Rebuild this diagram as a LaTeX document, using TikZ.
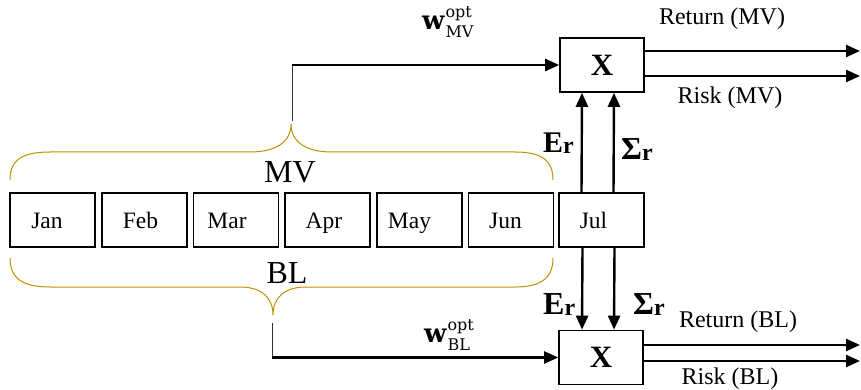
\documentclass[tikz,border=0pt]{standalone}
\usepackage{fontspec}
\setmainfont{Liberation Serif}
\newfontfamily\wserif{DejaVu Serif}
\usetikzlibrary{arrows.meta,calc}
\definecolor{bracegold}{RGB}{191,144,0}
% bold w with stacked "opt" superscript and a subscript tag
\newcommand\woptlabel[1]{{\wserif\fontsize{26}{26}\selectfont\bfseries w}\kern1pt%
  \rlap{\raisebox{12pt}{\wserif\fontsize{16}{16}\selectfont opt}}%
  \raisebox{-8pt}{\wserif\fontsize{16}{16}\selectfont #1}}
% bold symbol with a lowered bold r
\newcommand\symr[2]{{\fontsize{#2}{#2}\selectfont\bfseries #1}%
  \raisebox{-1pt}{\fontsize{24}{24}\selectfont\bfseries r}}

\begin{document}
\begin{tikzpicture}[x=1pt,y=-1pt,
  month/.style={draw,line width=1.4pt,minimum width=85pt,minimum height=54pt,inner sep=0pt,
    text height=16pt,text depth=0pt,font=\fontsize{23.5}{24}\selectfont},
  xbox/.style={draw,line width=1.6pt,minimum width=84pt,minimum height=54pt,inner sep=0pt,
    font=\fontsize{31}{31}\selectfont\bfseries},
  arr/.style={line width=2.4pt,-{Triangle[length=14pt,width=12pt]}},
  feed/.style={line width=1pt,draw=black!80},
  brace/.style={draw=bracegold,line width=1pt},
  lab/.style={inner sep=0pt,anchor=base,font=\fontsize{24}{26}\selectfont},
  big/.style={inner sep=0pt,font=\fontsize{32}{34}\selectfont},
  sym/.style={inner sep=0pt,anchor=base west},
  wlab/.style={inner sep=0pt,anchor=base west},
]
\useasboundingbox (0,0) rectangle (861,390);

% monthly windows
\node[month] (jan) at (52.5,220) {Jan\hspace*{11pt}};
\node[month] (feb) at (144.5,220) {Feb\hspace*{8pt}};
\node[month] (mar) at (236,220) {Mar\hspace*{18pt}};
\node[month] (apr) at (327.5,220) {Apr\hspace*{7pt}};
\node[month] (may) at (419.5,220) {May\hspace*{20pt}};
\node[month] (jun) at (511,220) {Jun\hspace*{11pt}};
\node[month] (jul) at (601.5,220) {Jul\hspace*{16pt}};

% portfolio evaluation boxes
\node[xbox] (xmv) at (602,65) {X};
\node[xbox] (xbl) at (601,357.5) {X};

% braces over the estimation window
\draw[brace] (10,180) .. controls (10,160) and (22,152) .. (50,152) -- (250,152)
  .. controls (276,152) and (291,142) .. (291,124)
  .. controls (291,142) and (306,152) .. (332,152) -- (515,152)
  .. controls (541,152) and (553,160) .. (553,180);
\draw[brace] (10,258) .. controls (10,278) and (22,287) .. (50,287) -- (240,287)
  .. controls (262,287) and (273,298) .. (273,315)
  .. controls (273,298) and (284,287) .. (306,287) -- (515,287)
  .. controls (541,287) and (553,278) .. (553,258);
\coordinate (mvtip) at (292,121);
\coordinate (bltip) at (272,323);

\node[big] (mvlab) at (290,172) {MV};
\node[big] (bllab) at (287,273) {BL};

% optimal weights feeding the evaluation boxes
\coordinate (mvcorner) at (mvtip |- xmv.west);
\draw[feed] (mvtip) -- (mvcorner);
\draw[arr] (mvcorner) -- (xmv.west);
\coordinate (blcorner) at (bltip |- xbl.west);
\draw[feed] (bltip) -- (blcorner);
\draw[arr] (blcorner) -- (xbl.west);

\node[wlab] (wmv) at (422,30) {\woptlabel{MV}};
\node[wlab] (wbl) at (424,342) {\woptlabel{BL}};

% expected returns and covariance from July
\draw[arr] ([xshift=-20pt]jul.north) -- ([xshift=-20pt]xmv.south);
\draw[arr] ([xshift=12pt]jul.north) -- ([xshift=12pt]xmv.south);
\draw[arr] ([xshift=-19pt]jul.south) -- ([xshift=-19pt]xbl.north);
\draw[arr] ([xshift=13pt]jul.south) -- ([xshift=13pt]xbl.north);

\node[sym] (er1) at (543,153) {\symr{E}{30}};
\node[sym] (sr1) at (621,160) {\symr{Σ}{32}};
\node[sym] (er2) at (543,314) {\symr{E}{32}};
\node[sym] (sr2) at (633,314) {\symr{Σ}{32}};

% outputs
\coordinate (retmv) at (860,51);
\coordinate (riskmv) at (860,76);
\coordinate (retbl) at (860,345);
\coordinate (riskbl) at (860,361);
\draw[arr] (xmv.east |- retmv) -- (retmv);
\draw[arr] (xmv.east |- riskmv) -- (riskmv);
\draw[arr] (xbl.east |- retbl) -- (retbl);
\draw[arr] (xbl.east |- riskbl) -- (riskbl);

\node[lab] (lretmv) at (722,25) {Return (MV)};
\node[lab] (lriskmv) at (730,104) {Risk (MV)};
\node[lab] (lretbl) at (738,327) {Return (BL)};
\node[lab] (lriskbl) at (730,384) {Risk (BL)};
\end{tikzpicture}
\end{document}
